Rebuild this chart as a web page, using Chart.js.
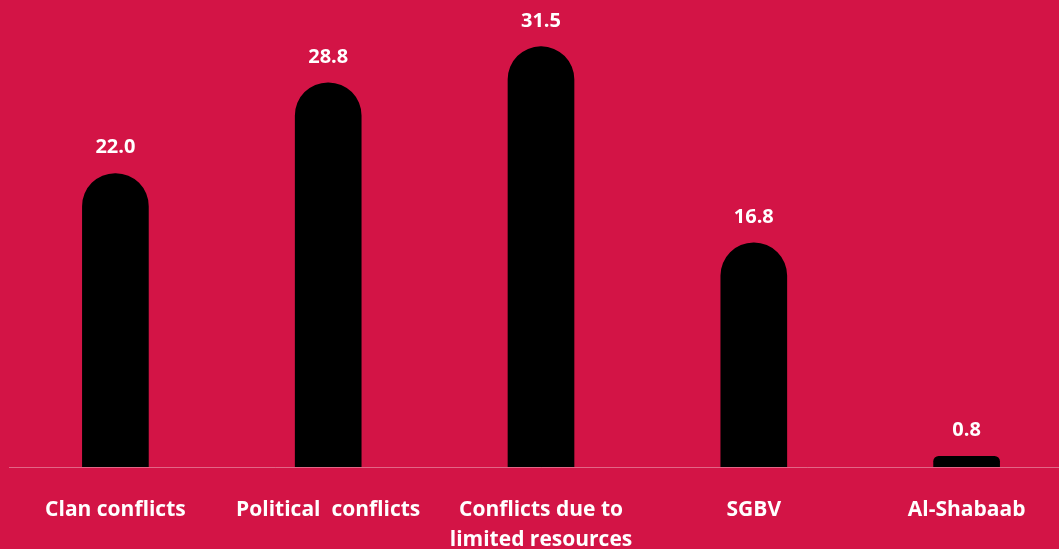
<!DOCTYPE html>
<html>
<head>
<meta charset="utf-8">
<script src="https://cdn.jsdelivr.net/npm/chart.js@4"></script>
<style>
  html, body { margin: 0; padding: 0; background: #D31446; overflow: hidden; width: 1059px; height: 549px; }
  canvas { display: block; }
</style>
</head>
<body>
<canvas id="canvasConflicts" width="1073" height="549"></canvas>
<script>
var categories = ["Clan conflicts", "Political  conflicts", ["Conflicts due to", "limited resources"], "SGBV", "Al-Shabaab"];
var values = [22.0, 28.8, 31.5, 16.8, 0.8];

// white value labels above each bar
var valueLabels = {
    id: 'valueLabels',
    afterDatasetsDraw: function(chart) {
        var ctx = chart.ctx;
        var meta = chart.getDatasetMeta(0);
        ctx.save();
        ctx.fillStyle = "#ffffff";
        ctx.font = "bold 20px 'Open Sans'";
        ctx.textAlign = "center";
        ctx.textBaseline = "alphabetic";
        for (var i = 0; i < meta.data.length; i++) {
            var bar = meta.data[i];
            ctx.fillText(values[i].toFixed(1), bar.x, bar.y - 20);
        }
        ctx.restore();
    }
};

var ctx = document.getElementById("canvasConflicts").getContext("2d");
new Chart(ctx, {
    type: "bar",
    data: {
        labels: categories,
        datasets: [{
            data: values,
            backgroundColor: "#000000",
            barThickness: 66,
            borderRadius: { topLeft: 33, topRight: 33 },
            borderSkipped: "bottom"
        }]
    },
    options: {
        responsive: false,
        animation: false,
        layout: { padding: { left: 9, right: 0, top: 0, bottom: 0 } },
        plugins: { legend: { display: false }, tooltip: { enabled: false } },
        scales: {
            x: {
                grid: { display: false, drawTicks: false },
                border: { display: true, color: "rgba(255,255,255,0.35)", width: 1 },
                ticks: {
                    color: "#ffffff",
                    font: { family: "'Open Sans'", size: 21, weight: "bold", lineHeight: "30px" },
                    padding: 28,
                    maxRotation: 0,
                    autoSkip: false
                },
                afterFit: function(scale) { scale.height = 82; }
            },
            y: {
                display: false,
                min: 0,
                max: 35
            }
        }
    },
    plugins: [valueLabels]
});
</script>
</body>
</html>
